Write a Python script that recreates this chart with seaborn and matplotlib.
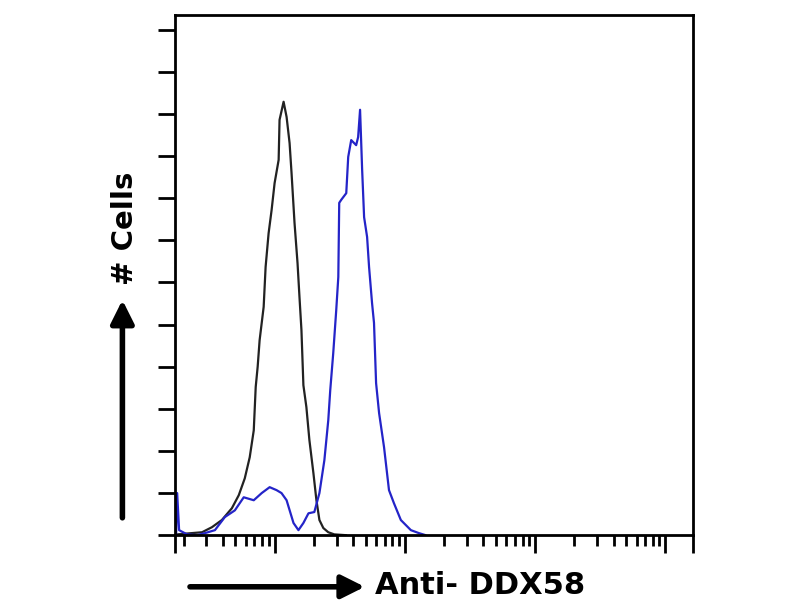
import numpy as np
import pandas as pd
import matplotlib
matplotlib.use("Agg")
import matplotlib.pyplot as plt
import seaborn as sns

# log10 of fluorescence intensity and counts
black_log = [0.252, 0.366, 0.443, 0.519, 0.595, 0.672, 0.725, 0.771, 0.809, 0.840,
             0.855, 0.870, 0.885, 0.916, 0.931, 0.954, 0.977, 1.000, 1.031, 1.038,
             1.069, 1.092, 1.115, 1.130, 1.153, 1.176, 1.191, 1.206, 1.221, 1.244,
             1.267, 1.298, 1.321, 1.344, 1.374, 1.412, 1.458, 1.550]
black_cnt = [0.2, 0.5, 0.7, 1.9, 3.6, 6.4, 9.5, 13.5, 18.5, 24.9,
             35.2, 40.0, 46.3, 54.2, 63.7, 71.7, 77.2, 83.6, 89.1, 98.6,
             102.9, 99.3, 93.1, 86.0, 74.1, 64.6, 56.5, 48.7, 35.6, 30.4,
             22.6, 14.7, 8.3, 3.6, 1.7, 0.7, 0.2, 0.0]

blue_log = [0.244, 0.252, 0.267, 0.328, 0.405, 0.466, 0.542, 0.618, 0.695, 0.763,
            0.840, 0.901, 0.962, 1.015, 1.053, 1.092, 1.145, 1.183, 1.221, 1.260,
            1.305, 1.344, 1.382, 1.412, 1.427, 1.450, 1.473, 1.489, 1.496, 1.511,
            1.550, 1.565, 1.588, 1.626, 1.641, 1.656, 1.672, 1.687, 1.710, 1.725,
            1.748, 1.763, 1.779, 1.802, 1.840, 1.878, 1.916, 1.969, 2.046, 2.107,
            2.160]
blue_cnt = [0.0, 10.0, 1.2, 0.2, 0.0, 0.5, 1.2, 4.3, 5.9, 9.0,
            8.3, 10.0, 11.4, 10.7, 10.0, 8.3, 2.9, 1.2, 2.9, 5.2,
            5.5, 10.0, 17.8, 27.3, 34.4, 43.2, 53.4, 61.3, 78.9, 79.6,
            81.2, 89.8, 93.8, 92.6, 94.5, 101.0, 86.7, 75.5, 70.8, 63.7,
            55.1, 50.4, 36.1, 29.0, 20.9, 10.7, 7.6, 3.6, 1.2, 0.5,
            0.0]

x_min, x_max = 10 ** 0.237, 10 ** 4.21
y_ticks = list(range(0, 130, 10))

df_black = pd.DataFrame({"fl": 10 ** np.array(black_log), "cells": black_cnt})
df_blue = pd.DataFrame({"fl": 10 ** np.array(blue_log), "cells": blue_cnt})

sns.set_style("white")
fig = plt.figure(figsize=(8, 6), dpi=100)
ax = fig.add_axes([0.219, 0.108, 0.647, 0.867])

sns.lineplot(data=df_black, x="fl", y="cells", sort=False, estimator=None,
             color="#222222", lw=1.6, ax=ax)
sns.lineplot(data=df_blue, x="fl", y="cells", sort=False, estimator=None,
             color="#2424c8", lw=1.6, ax=ax)

ax.set_xscale("log")
ax.set_xlim(x_min, x_max)
ax.set_ylim(0, 123.5)

major = [x_min, 10, 100, 1000, 10000, x_max]
minor = [m * 10 ** d for d in range(0, 5) for m in range(2, 10)
         if x_min < m * 10 ** d < x_max]
ax.set_xticks(major)
ax.set_xticks(minor, minor=True)
ax.set_yticks(y_ticks)
ax.set_xticklabels([])
ax.set_xticklabels([], minor=True)
ax.set_yticklabels([])
ax.tick_params(axis="x", which="major", direction="out", length=13, width=2,
               color="black", bottom=True)
ax.tick_params(axis="x", which="minor", direction="out", length=8, width=2,
               color="black", bottom=True)
ax.tick_params(axis="y", which="major", direction="out", length=12, width=2,
               color="black", left=True)
ax.set_xlabel("")
ax.set_ylabel("")
for s in ax.spines.values():
    s.set_color("black")
    s.set_linewidth(2)

# arrows and labels outside the axes
ax.annotate("", xy=(0.153, 0.5), xytext=(0.153, 0.137), xycoords="figure fraction",
            arrowprops=dict(arrowstyle="-|>,head_length=0.7,head_width=0.35",
                            lw=4, color="black", mutation_scale=20, shrinkA=0, shrinkB=0))
fig.text(0.156, 0.62, "# Cells", rotation=90, ha="center", va="center",
         fontsize=21, fontweight="bold", color="black")

ax.annotate("", xy=(0.456, 0.022), xytext=(0.2375, 0.022), xycoords="figure fraction",
            arrowprops=dict(arrowstyle="-|>,head_length=0.7,head_width=0.35",
                            lw=4, color="black", mutation_scale=20, shrinkA=0, shrinkB=0))
fig.text(0.469, 0.025, "Anti- DDX58", ha="left", va="center",
         fontsize=22, fontweight="bold", color="black")

fig.savefig("out.png", dpi=100)
